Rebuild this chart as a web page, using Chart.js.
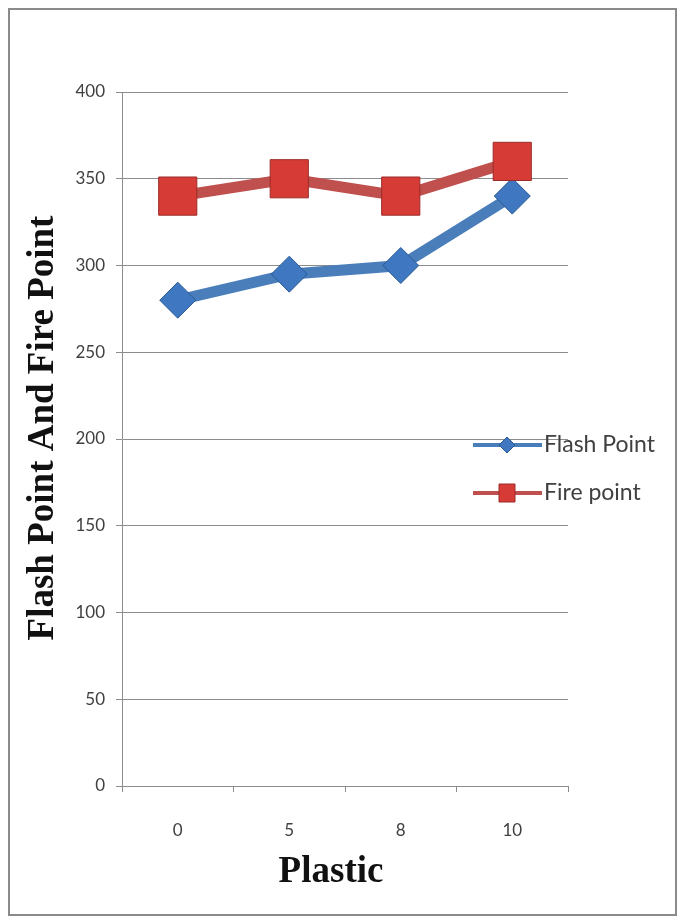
<!DOCTYPE html>
<html>
<head>
<meta charset="utf-8">
<script src="https://cdn.jsdelivr.net/npm/chart.js@4"></script>
<style>
  html, body { margin: 0; padding: 0; background: #ffffff; }
  #wrap { width: 685px; height: 924px; }
</style>
</head>
<body>
<div id="wrap"><canvas id="chart" width="685" height="924"></canvas></div>
<script>
// Plastic content on the category axis
const plasticLevels = ['0', '5', '8', '10'];
// Measured temperatures for each plastic content
const flashPoint = [280, 295, 300, 340];
const firePoint = [340, 350, 340, 360];
// Y axis ticks
const yTicks = [0, 50, 100, 150, 200, 250, 300, 350, 400];

const seriesNames = ['Flash Point', 'Fire point'];
const xTitle = 'Plastic';
const yTitle = 'Flash Point And Fire Point';

const axisGray = '#8c8c8c';
const labelColor = '#404040';
const titleFont = 'bold 37px "Liberation Serif", "Times New Roman", serif';

// White background and frame around the whole chart
const framePlugin = {
  id: 'frame',
  beforeDraw(chart) {
    const c = chart.ctx;
    c.save();
    c.fillStyle = '#ffffff';
    c.fillRect(0, 0, chart.width, chart.height);
    c.strokeStyle = '#8a8a8a';
    c.lineWidth = 2;
    c.strokeRect(9, 9, chart.width - 18, chart.height - 18);
    c.restore();
  }
};

// Axis titles in bold serif
const axisTitles = {
  id: 'axisTitles',
  afterDraw(chart) {
    const c = chart.ctx;
    c.save();
    c.fillStyle = '#111111';
    c.font = titleFont;
    c.textAlign = 'center';
    c.textBaseline = 'middle';
    c.fillText(xTitle, 331, 872);
    c.translate(43, 428);
    c.rotate(-Math.PI / 2);
    c.fillText(yTitle, 0, 0);
    c.restore();
  }
};

// Legend drawn on top of the plot, to the right of the lines
const sideLegend = {
  id: 'sideLegend',
  afterDraw(chart) {
    const c = chart.ctx;
    const rows = [
      { y: 445, ds: chart.data.datasets[0], shape: 'diamond' },
      { y: 493, ds: chart.data.datasets[1], shape: 'square' }
    ];
    c.save();
    rows.forEach(r => {
      c.strokeStyle = r.ds.borderColor;
      c.lineWidth = 4;
      c.beginPath();
      c.moveTo(473, r.y);
      c.lineTo(542, r.y);
      c.stroke();
      c.fillStyle = r.ds.pointBackgroundColor;
      c.strokeStyle = r.ds.pointBorderColor;
      c.lineWidth = 1;
      c.beginPath();
      if (r.shape === 'diamond') {
        c.moveTo(507 - 8, r.y);
        c.lineTo(507, r.y - 8);
        c.lineTo(507 + 8, r.y);
        c.lineTo(507, r.y + 8);
        c.closePath();
      } else {
        c.rect(507 - 8, r.y - 9, 16, 18);
      }
      c.fill();
      c.stroke();
      c.fillStyle = labelColor;
      c.font = '23px Lato, "Open Sans", sans-serif';
      c.textBaseline = 'middle';
      c.textAlign = 'left';
      c.fillText(r.ds.label, 544, r.y);
    });
    c.restore();
  }
};

new Chart(document.getElementById('chart'), {
  type: 'line',
  data: {
    labels: plasticLevels,
    datasets: [
      {
        label: seriesNames[0],
        data: flashPoint,
        borderColor: '#4a7ebb',
        borderWidth: 11,
        pointStyle: 'rectRot',
        pointRadius: 18,
        pointHoverRadius: 18,
        pointBackgroundColor: '#3f78c0',
        pointBorderColor: '#2a5a94',
        pointBorderWidth: 1,
        tension: 0,
        order: 2
      },
      {
        label: seriesNames[1],
        data: firePoint,
        borderColor: '#c0504d',
        borderWidth: 11,
        pointStyle: 'rect',
        pointRadius: 27,
        pointHoverRadius: 27,
        pointBackgroundColor: '#d63b36',
        pointBorderColor: '#9a2d2a',
        pointBorderWidth: 1,
        tension: 0,
        order: 1
      }
    ]
  },
  options: {
    responsive: false,
    animation: false,
    layout: { padding: { left: 0, right: 117, top: 92, bottom: 0 } },
    plugins: {
      legend: { display: false },
      tooltip: { enabled: false }
    },
    scales: {
      x: {
        offset: true,
        grid: {
          offset: true,
          drawOnChartArea: false,
          drawTicks: true,
          tickLength: 6,
          color: axisGray
        },
        border: { color: axisGray, width: 1 },
        ticks: {
          color: labelColor,
          font: { family: 'Lato, "Open Sans", sans-serif', size: 17 },
          padding: 28
        },
        afterFit(scale) { scale.height = 138; }
      },
      y: {
        min: 0,
        max: 400,
        afterBuildTicks(scale) { scale.ticks = yTicks.map(v => ({ value: v })); },
        grid: {
          color: axisGray,
          tickLength: 6
        },
        border: { color: axisGray, width: 1 },
        ticks: {
          color: labelColor,
          font: { family: 'Lato, "Open Sans", sans-serif', size: 17 },
          padding: 11
        },
        afterFit(scale) { scale.width = 122; }
      }
    }
  },
  plugins: [framePlugin, axisTitles, sideLegend]
});
</script>
</body>
</html>
